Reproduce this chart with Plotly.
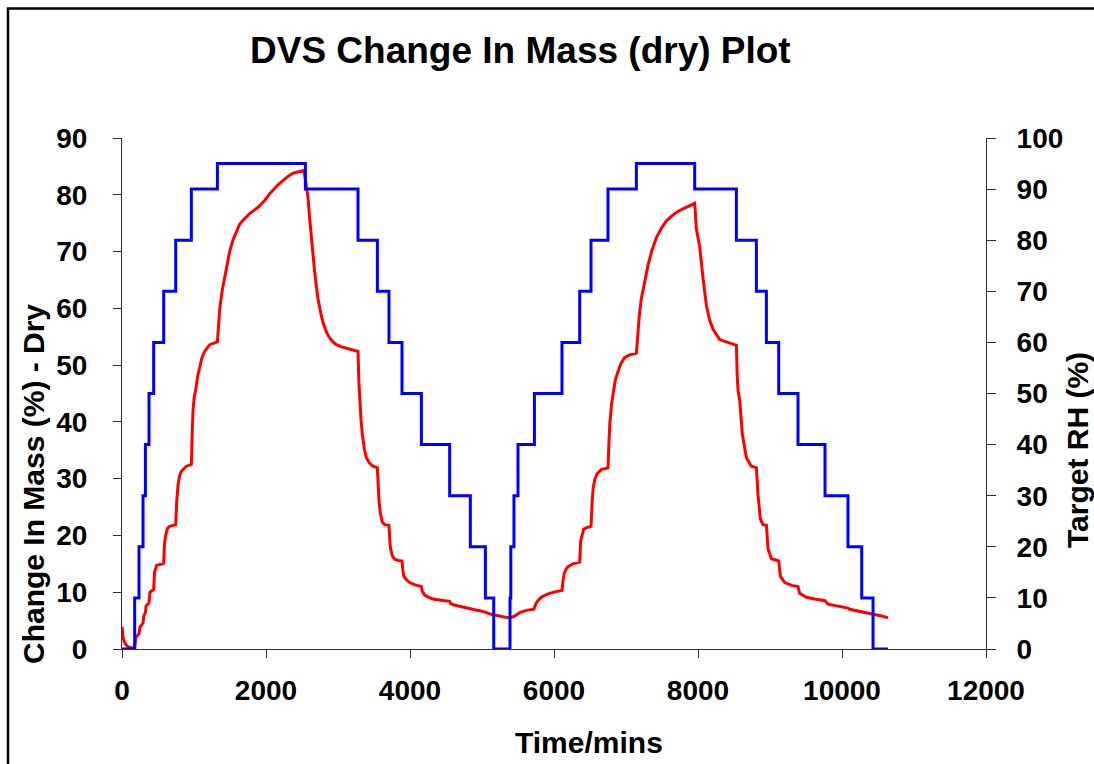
import plotly.graph_objects as go

# Target RH step changes (time in mins, RH %)
rh_time = [0, 176, 236, 292, 325, 375, 440, 579, 746, 963, 1325, 2547, 3278, 3547, 3708, 3889,
           4158, 4551, 4838, 5047, 5163, 5389, 5400, 5444, 5500, 5728, 6111, 6357, 6514, 6750,
           7144, 7954, 8533, 8811, 8950, 9121, 9389, 9764, 10083, 10274, 10431, 10639]
rh_level = [0, 10, 20, 30, 40, 50, 60, 70, 80, 90, 95, 90, 80, 70, 60, 50,
            40, 30, 20, 10, 0, 10, 20, 30, 40, 50, 60, 70, 80, 90,
            95, 90, 80, 70, 60, 50, 40, 30, 20, 10, 0, 0]

# Change in mass (%) vs time (mins)
mass_time = [0, 15, 40, 80, 130, 176, 190, 236, 248, 292, 302, 325, 335, 375, 388, 440, 452, 480, 579,
             590, 606, 630, 662, 746, 760, 778, 800, 824, 894, 963, 975, 986, 1005, 1023, 1050, 1079,
             1110, 1148, 1218, 1325, 1340, 1357, 1390, 1426, 1460, 1495, 1540, 1588, 1630, 1681, 1773,
             1889, 1981, 2040, 2097, 2170, 2236, 2300, 2375, 2450, 2528,
             2555, 2583, 2605, 2630, 2650, 2676, 2700, 2722, 2760, 2792, 2840, 2884, 2930, 2977, 3050,
             3116, 3200, 3278, 3290, 3301, 3320, 3338, 3365, 3394, 3440, 3486, 3547,
             3560, 3570, 3590, 3616, 3650, 3708, 3720, 3731, 3755, 3787, 3840, 3889,
             3900, 3912, 3950, 3995, 4070, 4158, 4170, 4204, 4260, 4319, 4430, 4551,
             4565, 4600, 4700, 4782, 4838, 4900, 5014, 5047, 5100, 5163, 5245, 5320, 5389,
             5420, 5454, 5500, 5523, 5616, 5722, 5740, 5754, 5790, 5824, 5880, 5940, 6030, 6111,
             6125, 6140, 6165, 6194, 6264, 6357, 6370, 6390, 6412, 6460, 6514,
             6530, 6545, 6570, 6600, 6657, 6750, 6762, 6775, 6800, 6819, 6850, 6889, 6930, 6981,
             7050, 7144, 7160, 7185, 7213, 7260, 7306, 7360, 7421, 7490, 7560, 7630, 7699, 7770,
             7838, 7900, 7954, 7977, 8023, 8070, 8117, 8160, 8209, 8301, 8440, 8533,
             8545, 8556, 8579, 8616, 8672, 8741, 8811, 8834, 8866, 8903, 8950,
             8973, 9019, 9121, 9144, 9204, 9300, 9389, 9412, 9505, 9620, 9764,
             9806, 9950, 10083, 10106, 10270, 10431, 10550, 10639]
mass_change = [3.9, 2.0, 1.0, 0.4, 0.2, 0.2, 2.0, 2.7, 3.8, 4.6, 5.8, 6.4, 7.6, 8.1, 10.0, 10.5, 13.5, 14.7, 15.1,
               18.5, 20.0, 21.2, 21.6, 21.9, 26.0, 28.9, 30.5, 31.3, 32.2, 32.5, 38.0, 42.0, 44.5, 45.6, 48.0, 49.8,
               51.3, 52.4, 53.6, 54.1, 57.0, 59.9, 63.0, 65.6, 68.0, 70.0, 72.0, 73.6, 74.7, 75.5, 76.7,
               77.8, 79.0, 80.0, 80.8, 81.8, 82.5, 83.2, 83.8, 84.1, 84.3,
               82.0, 79.6, 76.0, 72.4, 69.0, 66.4, 63.8, 61.7, 59.2, 57.5, 55.8, 54.8, 54.1, 53.6, 53.2,
               53.0, 52.7, 52.4, 47.0, 43.8, 40.3, 37.8, 35.3, 33.7, 32.7, 32.2, 31.9,
               28.5, 25.9, 23.8, 22.3, 21.9, 21.8, 19.0, 17.6, 16.4, 15.8, 15.6, 15.5,
               14.0, 12.9, 12.2, 11.7, 11.3, 11.0, 10.2, 9.5, 9.1, 8.8, 8.6, 8.4,
               8.0, 7.8, 7.5, 7.3, 7.1, 6.9, 6.6, 6.5, 6.2, 6.0, 5.8, 5.6, 5.5,
               5.6, 5.8, 6.2, 6.4, 6.8, 7.0, 7.7, 8.1, 8.7, 9.1, 9.5, 9.8, 10.1, 10.3,
               12.0, 13.2, 14.0, 14.5, 15.0, 15.3, 19.0, 20.3, 21.1, 21.4, 21.6,
               26.0, 28.5, 30.0, 30.9, 31.6, 31.9, 36.0, 39.6, 43.2, 45.0, 47.3, 48.9, 50.3, 51.3,
               51.8, 52.1, 55.5, 58.8, 61.7, 65.0, 67.6, 70.2, 72.4, 74.1, 75.4, 76.2, 76.9, 77.4,
               77.8, 78.2, 78.5, 74.0, 70.9, 65.3, 60.5, 58.0, 56.3, 54.5, 53.9, 53.5,
               48.0, 45.5, 43.8, 37.8, 33.7, 32.2, 31.9, 27.1, 22.9, 21.9, 21.8,
               17.6, 15.9, 15.5, 12.8, 11.7, 11.2, 11.0, 9.8, 9.1, 8.8, 8.5,
               7.9, 7.5, 7.2, 7.0, 6.6, 6.1, 5.8, 5.5]

x_ticks = [0, 2000, 4000, 6000, 8000, 10000, 12000]
x_tick_labels = ["0", "2000", "4000", "6000", "8000", "10000", "12000"]
y_ticks = [0, 10, 20, 30, 40, 50, 60, 70, 80, 90]
y2_ticks = [0, 10, 20, 30, 40, 50, 60, 70, 80, 90, 100]

FONT = "Liberation Sans"
W, H = 1094, 764
L, R, T, B = 122, 108, 138, 115
PW, PH = W - L - R, H - T - B


def px(xp):
    return (xp - L) / PW


def py(yp):
    return (H - B - yp) / PH


fig = go.Figure()
fig.add_trace(go.Scatter(x=mass_time, y=mass_change, mode="lines",
                         line=dict(color="#FF0000", width=3), yaxis="y",
                         cliponaxis=False, showlegend=False))
fig.add_trace(go.Scatter(x=rh_time, y=rh_level, mode="lines", line_shape="hv",
                         line=dict(color="#0000FF", width=3), yaxis="y2",
                         cliponaxis=False, showlegend=False))

tickfont = dict(family=FONT, size=28, color="black", weight="bold")
axcol = "#303030"
fig.update_layout(
    width=W, height=H,
    margin=dict(l=L, r=R, t=T, b=B, pad=0),
    paper_bgcolor="white", plot_bgcolor="white",
    xaxis=dict(range=[0, 12000], tickvals=x_ticks, ticktext=x_tick_labels,
               ticks="outside", ticklen=8,
               tickcolor=axcol, showline=True, linecolor=axcol, linewidth=1,
               showgrid=False, zeroline=False, tickfont=tickfont,
               ticklabelstandoff=8),
    yaxis=dict(range=[0, 90], tickvals=y_ticks, ticks="outside", ticklen=8,
               tickcolor=axcol, showline=True, linecolor=axcol, linewidth=1,
               showgrid=False, zeroline=False, tickfont=tickfont,
               ticklabelstandoff=20),
    yaxis2=dict(range=[0, 100], tickvals=y2_ticks, ticks="outside", ticklen=9,
                tickcolor=axcol, showline=True, linecolor=axcol, linewidth=1,
                showgrid=False, zeroline=False, tickfont=tickfont,
                overlaying="y", side="right", ticklabelstandoff=15),
)

fig.add_annotation(text="DVS Change In Mass (dry) Plot", xref="paper", yref="paper",
                   x=px(520), y=py(50), showarrow=False, xanchor="center", yanchor="middle",
                   font=dict(family=FONT, size=37, color="black", weight="bold"))
fig.add_annotation(text="Change In Mass (%) - Dry", xref="paper", yref="paper",
                   x=px(33), y=py(484), showarrow=False, textangle=-90,
                   xanchor="center", yanchor="middle",
                   font=dict(family=FONT, size=30, color="black", weight="bold"))
fig.add_annotation(text="Target RH (%)", xref="paper", yref="paper",
                   x=px(1077), y=py(450), showarrow=False, textangle=-90,
                   xanchor="center", yanchor="middle",
                   font=dict(family=FONT, size=30, color="black", weight="bold"))
fig.add_annotation(text="Time/mins", xref="paper", yref="paper",
                   x=px(589), y=py(742), showarrow=False,
                   xanchor="center", yanchor="middle",
                   font=dict(family=FONT, size=30, color="black", weight="bold"))

# outer chart frame (extends past right/bottom edges like the reference)
fig.add_shape(type="rect", xref="paper", yref="paper",
              x0=px(8), x1=px(1110), y0=py(780), y1=py(8.5),
              line=dict(color="black", width=2.5), layer="above")

fig.write_html("out.html")
